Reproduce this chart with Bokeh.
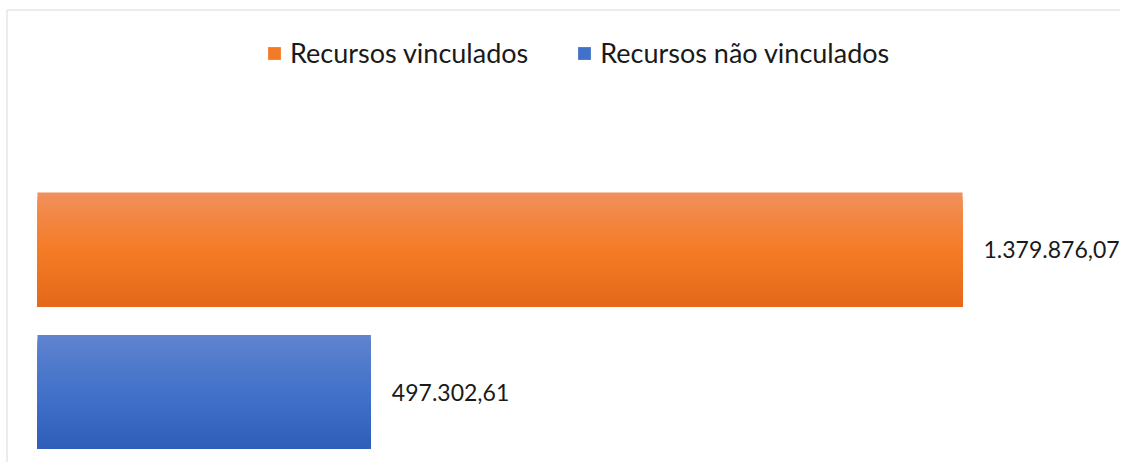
from bokeh.plotting import figure
from bokeh.models import Range1d, Legend, LegendItem, ColumnDataSource
from bokeh.embed import file_html
from bokeh.resources import INLINE
from bokeh.core.properties import value

categories = ["Recursos vinculados", "Recursos não vinculados"]
values = [1379876.07, 497302.61]
labels = ["1.379.876,07", "497.302,61"]
positions = [1, 0]
# gradient stops (top, middle, bottom) per series
gradients = [
    [(240, 144, 92), (245, 124, 38), (228, 104, 26)],
    [(96, 132, 206), (66, 114, 202), (46, 94, 184)],
]

FONT = "Lato"
W, H = 1120, 462
PX_PER_UNIT_X = 925 / max(values)   # screen px per data unit
ZERO_PX = 37                        # canvas x of zero
PX_PER_CAT = 142.5
BASE_PX = 70.5                      # canvas px from bottom to first category

x0 = -ZERO_PX / PX_PER_UNIT_X
x1 = x0 + W / PX_PER_UNIT_X
y0 = -BASE_PX / PX_PER_CAT
y1 = y0 + H / PX_PER_CAT

p = figure(width=W, height=H, output_backend="svg", toolbar_location=None,
           x_range=Range1d(x0, x1), y_range=Range1d(y0, y1),
           min_border=0, min_border_left=0, min_border_right=0,
           min_border_top=0, min_border_bottom=0)
p.xaxis.visible = False
p.yaxis.visible = False
p.xgrid.grid_line_color = None
p.ygrid.grid_line_color = None
p.outline_line_color = None
p.background_fill_color = "white"
p.border_fill_color = "white"

# chart-area border (left and top edges)
bx = x0 + 6.5 / PX_PER_UNIT_X
by = y1 - 9.5 / PX_PER_CAT
p.segment(x0=[bx, bx], y0=[by, by], x1=[bx, x1], y1=[y0, by],
          line_color="#d9d9d9", line_width=1)

def interp(stops, t):
    if t <= 0.5:
        a, b, u = stops[0], stops[1], t / 0.5
    else:
        a, b, u = stops[1], stops[2], (t - 0.5) / 0.5
    c = tuple(int(round(a[i] + (b[i] - a[i]) * u)) for i in range(3))
    return "#%02x%02x%02x" % c

BAR_H = 0.8
N = 30
legend_items = []
for cat, val, pos, stops in zip(categories, values, positions, gradients):
    sh = BAR_H / N
    bottom = pos - BAR_H / 2
    tops = [pos + BAR_H / 2 - k * sh for k in range(N)]
    cols = [interp(stops, (k + 0.5) / N) for k in range(N)]
    src = ColumnDataSource(dict(top=tops, bottom=[bottom] * N, right=[val] * N, color=cols))
    p.quad(left=0, right="right", top="top", bottom="bottom", fill_color="color",
           line_color=None, source=src)
    proxy = p.hbar(y=[pos], left=[0], right=[0], height=0, fill_color=cols[N // 2],
                   line_color=None)
    legend_items.append(LegendItem(label=cat, renderers=[proxy]))

lsrc = ColumnDataSource(dict(x=values, y=positions, text=labels))
p.text(x="x", y="y", text="text", source=lsrc, x_offset=21,
       text_baseline="middle", text_align="left", text_font=value(FONT),
       text_font_size="23px", text_color="#1a1a1a")

legend = Legend(items=legend_items, orientation="horizontal", location=(266, 393))
legend.border_line_color = None
legend.background_fill_alpha = 0
legend.label_text_font = FONT
legend.label_text_font_size = "27px"
legend.label_text_color = "#1a1a1a"
legend.glyph_width = 16
legend.glyph_height = 16
legend.label_standoff = 8
legend.spacing = 48
legend.padding = 0
legend.margin = 0
p.add_layout(legend, "center")

open("out.html", "w").write(file_html(p, INLINE))
